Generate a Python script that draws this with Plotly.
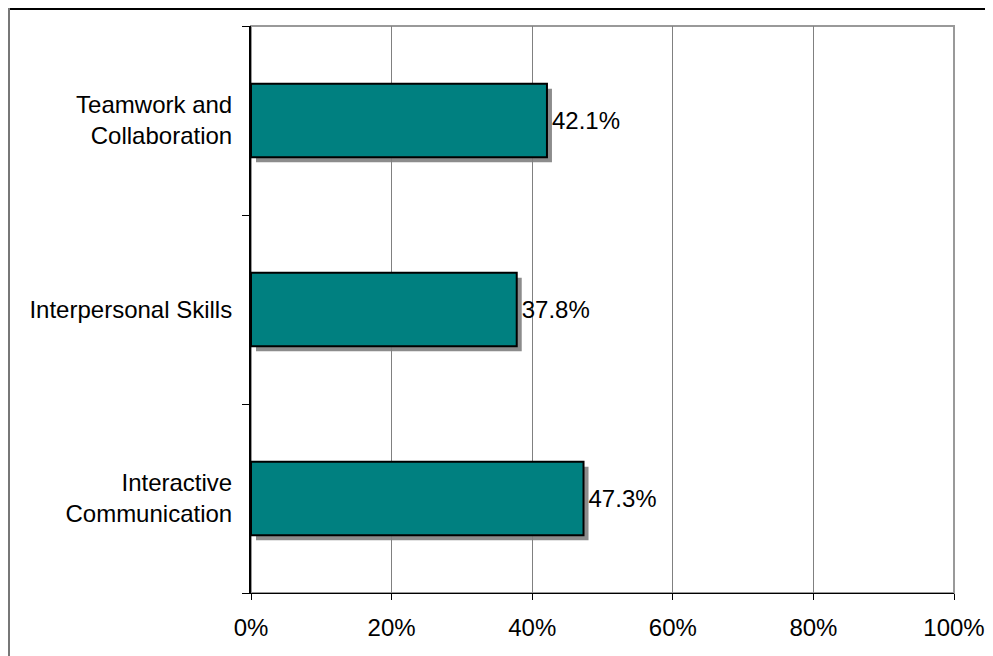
import plotly.graph_objects as go

categories = ["Interactive Communication", "Interpersonal Skills", "Teamwork and Collaboration"]
labels = ["Interactive<br>Communication", "Interpersonal Skills", "Teamwork and<br>Collaboration"]
values = [47.3, 37.8, 42.1]
x_ticks = [0, 20, 40, 60, 80, 100]
x_ticktext = ["0%", "20%", "40%", "60%", "80%", "100%"]

W, H = 993, 656
L, T = 243, 18
PW, PH = 703, 567
S = 5
WP, HP = PW + S, PH + S
R = W - L - WP
B = H - T - HP

FONT = "Arial, Liberation Sans, sans-serif"
TEAL = "#008080"
SHADOW = "#8c8c8c"

fig = go.Figure()

# shadow trace (drawn first, offset subplot)
fig.add_trace(go.Bar(
    y=categories, x=values, orientation="h", width=0.39,
    marker=dict(color=SHADOW, line=dict(width=0)),
    xaxis="x", yaxis="y", hoverinfo="skip", showlegend=False,
))

# real bars
fig.add_trace(go.Bar(
    y=categories, x=values, orientation="h", width=0.39,
    marker=dict(color=TEAL, line=dict(color="black", width=2)),
    text=[f"\u200a{v:.1f}%" for v in values], textposition="outside",
    textfont=dict(family=FONT, size=24, color="black"),
    cliponaxis=False,
    xaxis="x2", yaxis="y2", showlegend=False,
))

fig.update_layout(
    width=W, height=H,
    margin=dict(l=L, r=R, t=T, b=B),
    paper_bgcolor="white", plot_bgcolor="rgba(0,0,0,0)",
    font=dict(family=FONT, size=24, color="black"),
    bargap=0.61,
    xaxis=dict(domain=[S / WP, 1], range=[0, 100], visible=False, showgrid=False),
    yaxis=dict(domain=[0, PH / HP], range=[-0.5, 2.5], visible=False,
               type="category", categoryorder="array", categoryarray=categories,
               anchor="x"),
    xaxis2=dict(domain=[0, PW / WP], range=[0, 100], anchor="y2",
                tickvals=x_ticks, ticktext=x_ticktext,
                showgrid=True, gridcolor="#808080", gridwidth=1,
                showline=True, linecolor="black", linewidth=1,
                ticks="outside", ticklen=6, tickcolor="black",
                zeroline=False, tickfont=dict(size=24), ticklabelstandoff=7),
    yaxis2=dict(domain=[S / HP, 1], range=[-0.5, 2.5], anchor="x2",
                type="category", categoryorder="array", categoryarray=categories,
                tickvals=categories, ticktext=labels,
                tickson="boundaries",
                showline=True, linecolor="black", linewidth=2,
                ticks="outside", ticklen=7, tickcolor="black",
                showgrid=False, ticklabelstandoff=12, tickfont=dict(size=24)),
    shapes=[
        dict(type="rect", xref="x2 domain", yref="y2 domain", x0=0, x1=1, y0=0, y1=1,
             line=dict(color="#999999", width=2), layer="below"),
        dict(type="line", xref="paper", yref="paper",
             x0=(0 - L) / WP, x1=(W + 5 - L) / WP,
             y0=(T + HP - 1) / HP, y1=(T + HP - 1) / HP,
             line=dict(color="black", width=2)),
        dict(type="line", xref="paper", yref="paper",
             x0=(1 - L) / WP, x1=(1 - L) / WP,
             y0=(T + HP) / HP, y1=(T + HP - H - 5) / HP,
             line=dict(color="#777777", width=2)),
    ],
)

fig.write_html("out.html")
